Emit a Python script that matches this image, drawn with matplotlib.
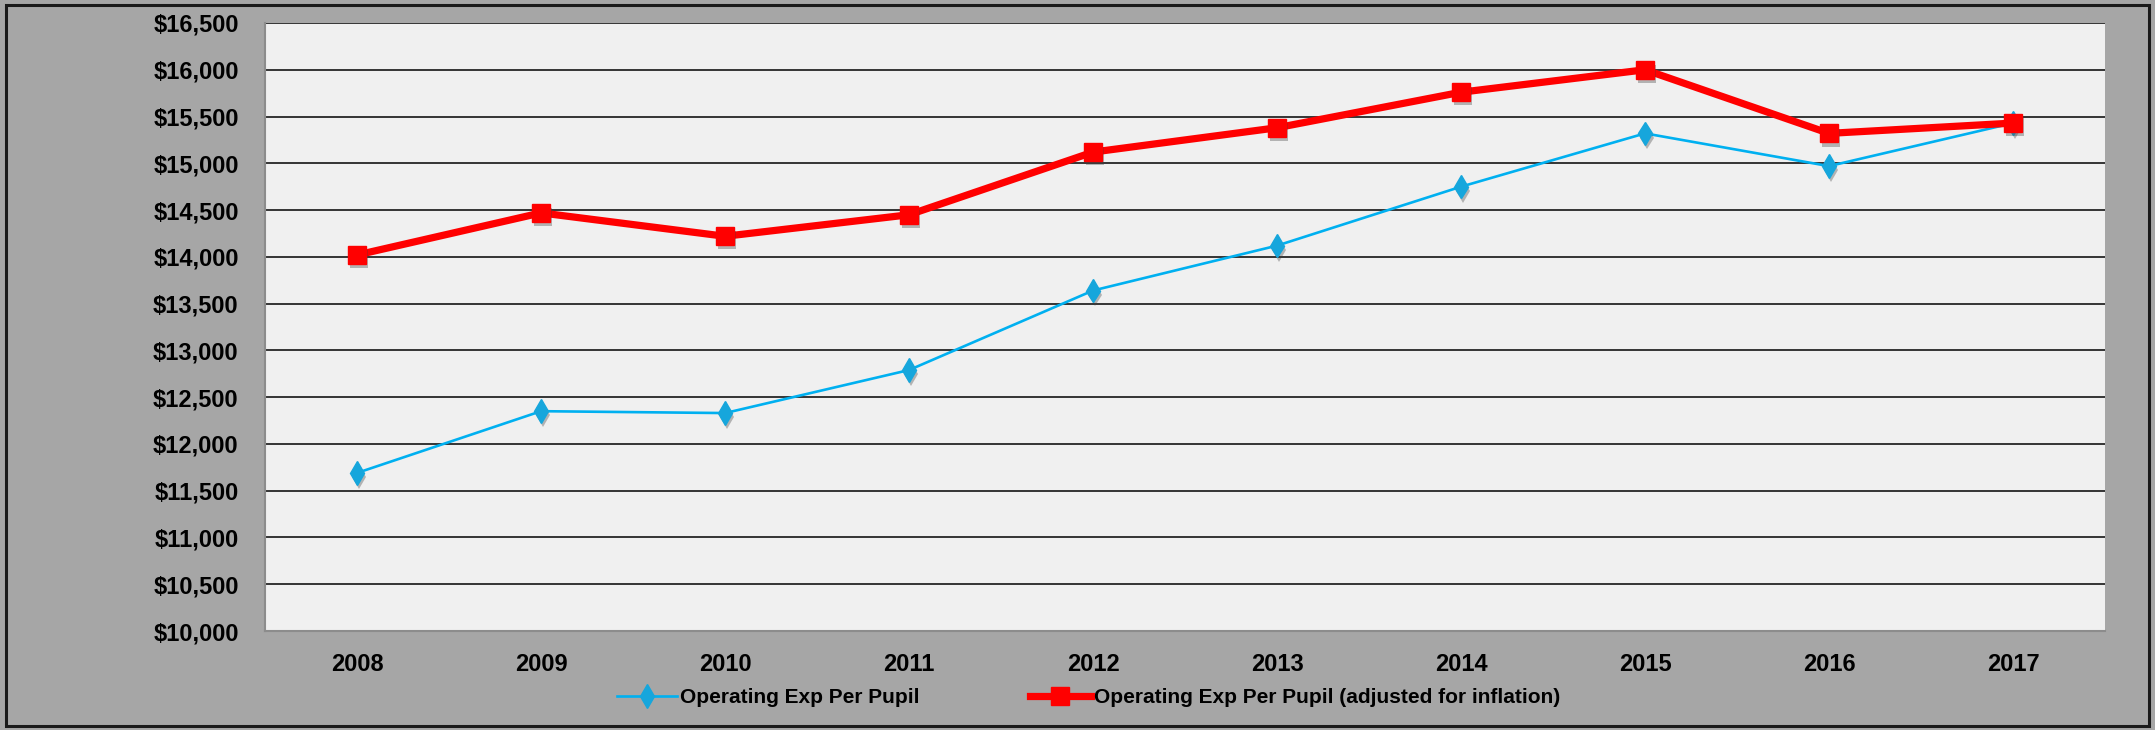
"""Operating expense per pupil, nominal vs inflation-adjusted, 2008-2017."""

import matplotlib

matplotlib.use("Agg")

import matplotlib.pyplot as plt
import matplotlib.patheffects as pe
from matplotlib.patches import Rectangle
from matplotlib.ticker import FuncFormatter, MultipleLocator

plt.rcParams["font.family"] = ["Liberation Sans", "DejaVu Sans"]
plt.rcParams["font.weight"] = "bold"

YEARS = ["2008", "2009", "2010", "2011", "2012", "2013", "2014", "2015", "2016", "2017"]
EXP_PER_PUPIL = [11690, 12350, 12330, 12790, 13640, 14120, 14750, 15320, 14970, 15430]
EXP_ADJUSTED = [14020, 14470, 14220, 14450, 15120, 15380, 15760, 16000, 15320, 15430]

SERIES_LABELS = ["Operating Exp Per Pupil", "Operating Exp Per Pupil (adjusted for inflation)"]

FIG_BG = "#A6A6A6"
PLOT_BG = "#F0F0F0"
BLUE_LINE = "#00B0F0"
BLUE_MARKER = "#16A6DC"
RED = "#FF0000"


def main() -> None:
    fig = plt.figure(figsize=(21.55, 7.3), dpi=100, facecolor=FIG_BG)
    ax = fig.add_axes((0.123, 0.1356, 0.8538, 0.8329))
    ax.set_facecolor(PLOT_BG)

    x = list(range(len(YEARS)))
    # Excel-style soft shadow, only under the markers
    shadow = [pe.SimplePatchShadow(offset=(1.5, -3), shadow_rgbFace="#404040", alpha=0.35), pe.Normal()]

    ax.plot(x, EXP_PER_PUPIL, color=BLUE_LINE, linewidth=1.9, zorder=3)
    ax.plot(
        x, EXP_PER_PUPIL, linestyle="none", marker="d", markersize=12,
        markerfacecolor=BLUE_MARKER, markeredgecolor=BLUE_MARKER, path_effects=shadow, zorder=3,
    )
    ax.plot(x, EXP_ADJUSTED, color=RED, linewidth=5.2, zorder=4)
    ax.plot(
        x, EXP_ADJUSTED, linestyle="none", marker="s", markersize=13,
        markerfacecolor=RED, markeredgecolor=RED, path_effects=shadow, zorder=4,
    )

    # legend handles (line + marker together)
    ax.plot([], [], color=BLUE_LINE, linewidth=1.9, marker="d", markersize=12,
            markerfacecolor=BLUE_MARKER, markeredgecolor=BLUE_MARKER, label=SERIES_LABELS[0])
    ax.plot([], [], color=RED, linewidth=5.2, marker="s", markersize=13,
            markerfacecolor=RED, markeredgecolor=RED, label=SERIES_LABELS[1])

    ax.set_xlim(-0.5, len(YEARS) - 0.5)
    ax.set_ylim(10000, 16500)
    ax.yaxis.set_major_locator(MultipleLocator(500))
    ax.yaxis.set_major_formatter(FuncFormatter(lambda v, _: f"${v:,.0f}"))
    ax.set_xticks(x)
    ax.set_xticklabels(YEARS)
    ax.tick_params(axis="both", length=0, labelsize=17)
    ax.tick_params(axis="y", pad=19)
    ax.tick_params(axis="x", pad=16)
    ax.grid(axis="y", color="#262626", linewidth=1.3)
    ax.set_axisbelow(True)

    for side in ("top", "right"):
        ax.spines[side].set_visible(False)
    for side in ("left", "bottom"):
        ax.spines[side].set_color("#8C8C8C")
        ax.spines[side].set_linewidth(1.5)

    leg = fig.legend(
        loc="center", bbox_to_anchor=(0.505, 0.044), ncol=2, frameon=False,
        fontsize=15, handlelength=2.9, handletextpad=0.15, columnspacing=5.3,
    )
    for text in leg.get_texts():
        text.set_fontweight("bold")

    # outer chart frame
    fig.patches.append(Rectangle(
        (0.003, 0.006), 0.994, 0.987, transform=fig.transFigure,
        fill=False, edgecolor="#1A1A1A", linewidth=2.2,
    ))

    fig.savefig("out.png", dpi=100, facecolor=fig.get_facecolor())
    plt.close(fig)


if __name__ == "__main__":
    main()
